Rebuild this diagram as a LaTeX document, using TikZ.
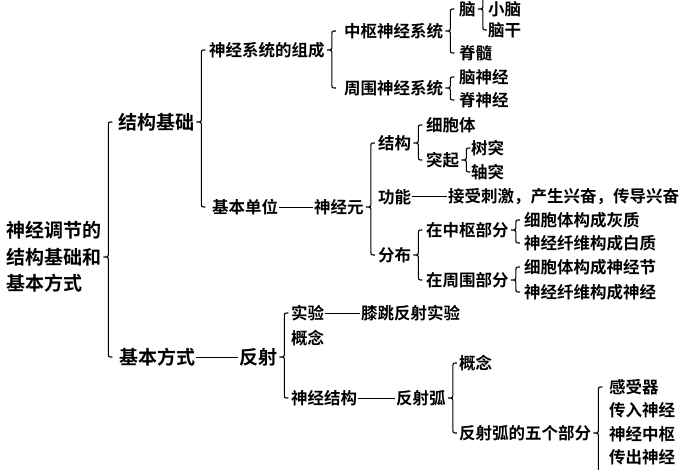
\documentclass[tikz,border=0pt]{standalone}
\usepackage{fontspec}
\setmainfont{Noto Sans CJK SC}[BoldFont={Noto Sans CJK SC Bold}]
\usetikzlibrary{calc}

% brace from the parent node to its first and last child
\newcommand{\brc}[3]{%
  \draw[brc] let \p1=(#1.east), \p2=(#2), \p3=(#3) in
    (\x1+10pt,\y2) .. controls (\x1+6pt,\y2) .. (\x1+6pt,\y2-4pt)
    -- (\x1+6pt,\y1+5pt) .. controls (\x1+6pt,\y1) .. (\x1+1pt,\y1)
    .. controls (\x1+6pt,\y1) .. (\x1+6pt,\y1-5pt)
    -- (\x1+6pt,\y3+4pt) .. controls (\x1+6pt,\y3) .. (\x1+10pt,\y3);}

\begin{document}
\begin{tikzpicture}[x=1pt,y=-1pt]
    \tikzset{
      lbl/.style={inner sep=1pt, anchor=west, font=\bfseries\fontsize{16.5}{18}\selectfont},
      big/.style={lbl, font=\bfseries\fontsize{19}{26.5}\selectfont},
      link/.style={line width=1pt},
      brc/.style={line width=1.1pt}
    }
    \useasboundingbox (0,0) rectangle (700,470);
    \clip (0,0) rectangle (700,470);
    % main nodes
    \node[big, align=left] (title) at (5,257) {神经调节的\\结构基础和\\基本方式};
    \node[big] (jcjc) at (117,122) {结构基础};
    \node[big] (jbfs) at (118,357) {基本方式};
    \node[big] (fanshe) at (238,357) {反射};
    % structure basis
    \node[lbl] (zucheng) at (208,50) {神经系统的组成};
    \node[lbl] (danwei) at (211,207) {基本单位};
    \node[lbl] (sjy) at (313,207) {神经元};
    \node[lbl] (zhongshu) at (343,31) {中枢神经系统};
    \node[lbl] (zhouwei) at (343,88) {周围神经系统};
    \node[lbl] (nao) at (458,9) {脑};
    \coordinate (naotop) at (487,-16);
    \node[lbl] (xiaonao) at (487,9) {小脑};
    \node[lbl] (naogan) at (487,30) {脑干};
    \node[lbl] (jisui) at (458,53) {脊髓};
    \node[lbl] (naosj) at (458,77) {脑神经};
    \node[lbl] (jisj) at (458,100) {脊神经};
    % neuron
    \node[lbl] (jiegou) at (377,143) {结构};
    \node[lbl] (xbt) at (425,125) {细胞体};
    \node[lbl] (tuqi) at (425,160) {突起};
    \node[lbl] (shutu) at (470,148) {树突};
    \node[lbl] (zhoutu) at (470,172) {轴突};
    \node[lbl] (gongneng) at (377,197) {功能};
    \node[lbl] (gntext) at (447,197) {接受刺激，产生兴奋，传导兴奋};
    \node[lbl] (fenbu) at (377,255) {分布};
    \node[lbl] (zsbf) at (425,230) {在中枢部分};
    \node[lbl] (zwbf) at (425,280) {在周围部分};
    \node[lbl] (huizhi) at (523,220) {细胞体构成灰质};
    \node[lbl] (baizhi) at (523,243) {神经纤维构成白质};
    \node[lbl] (sjjie) at (523,267) {细胞体构成神经节};
    \node[lbl] (sjing) at (523,292) {神经纤维构成神经};
    % reflex
    \node[lbl] (shiyan) at (290,313) {实验};
    \node[lbl] (xitiao) at (360,313) {膝跳反射实验};
    \node[lbl] (gainian) at (290,338) {概念};
    \node[lbl] (sjjg) at (290,398) {神经结构};
    \node[lbl] (fshu) at (395,398) {反射弧};
    \node[lbl] (gainian2) at (458,363) {概念};
    \node[lbl] (wubf) at (458,433) {反射弧的五个部分};
    \node[lbl] (gsq) at (608,387) {感受器};
    \node[lbl] (crsj) at (608,410) {传入神经};
    \node[lbl] (sjzs) at (608,434) {神经中枢};
    \node[lbl] (ccsj) at (608,457) {传出神经};
    \coordinate (wubot) at (608,485);

    % dashes
    \draw[link] (danwei) -- (sjy);
    \draw[link] (jbfs) -- (fanshe);
    \draw[link] (gongneng) -- (gntext);
    \draw[link] (shiyan) -- (xitiao);
    \draw[link] (sjjg) -- (fshu);

    % braces
    \brc{title}{jcjc}{jbfs}
    \brc{jcjc}{zucheng}{danwei}
    \brc{zucheng}{zhongshu}{zhouwei}
    \brc{zhongshu}{nao}{jisui}
    \brc{nao}{naotop}{naogan}
    \brc{zhouwei}{naosj}{jisj}
    \brc{sjy}{jiegou}{fenbu}
    \brc{jiegou}{xbt}{tuqi}
    \brc{tuqi}{shutu}{zhoutu}
    \brc{fenbu}{zsbf}{zwbf}
    \brc{zsbf}{huizhi}{baizhi}
    \brc{zwbf}{sjjie}{sjing}
    \brc{fanshe}{shiyan}{sjjg}
    \brc{fshu}{gainian2}{wubf}
    \brc{wubf}{gsq}{wubot}
\end{tikzpicture}
\end{document}
